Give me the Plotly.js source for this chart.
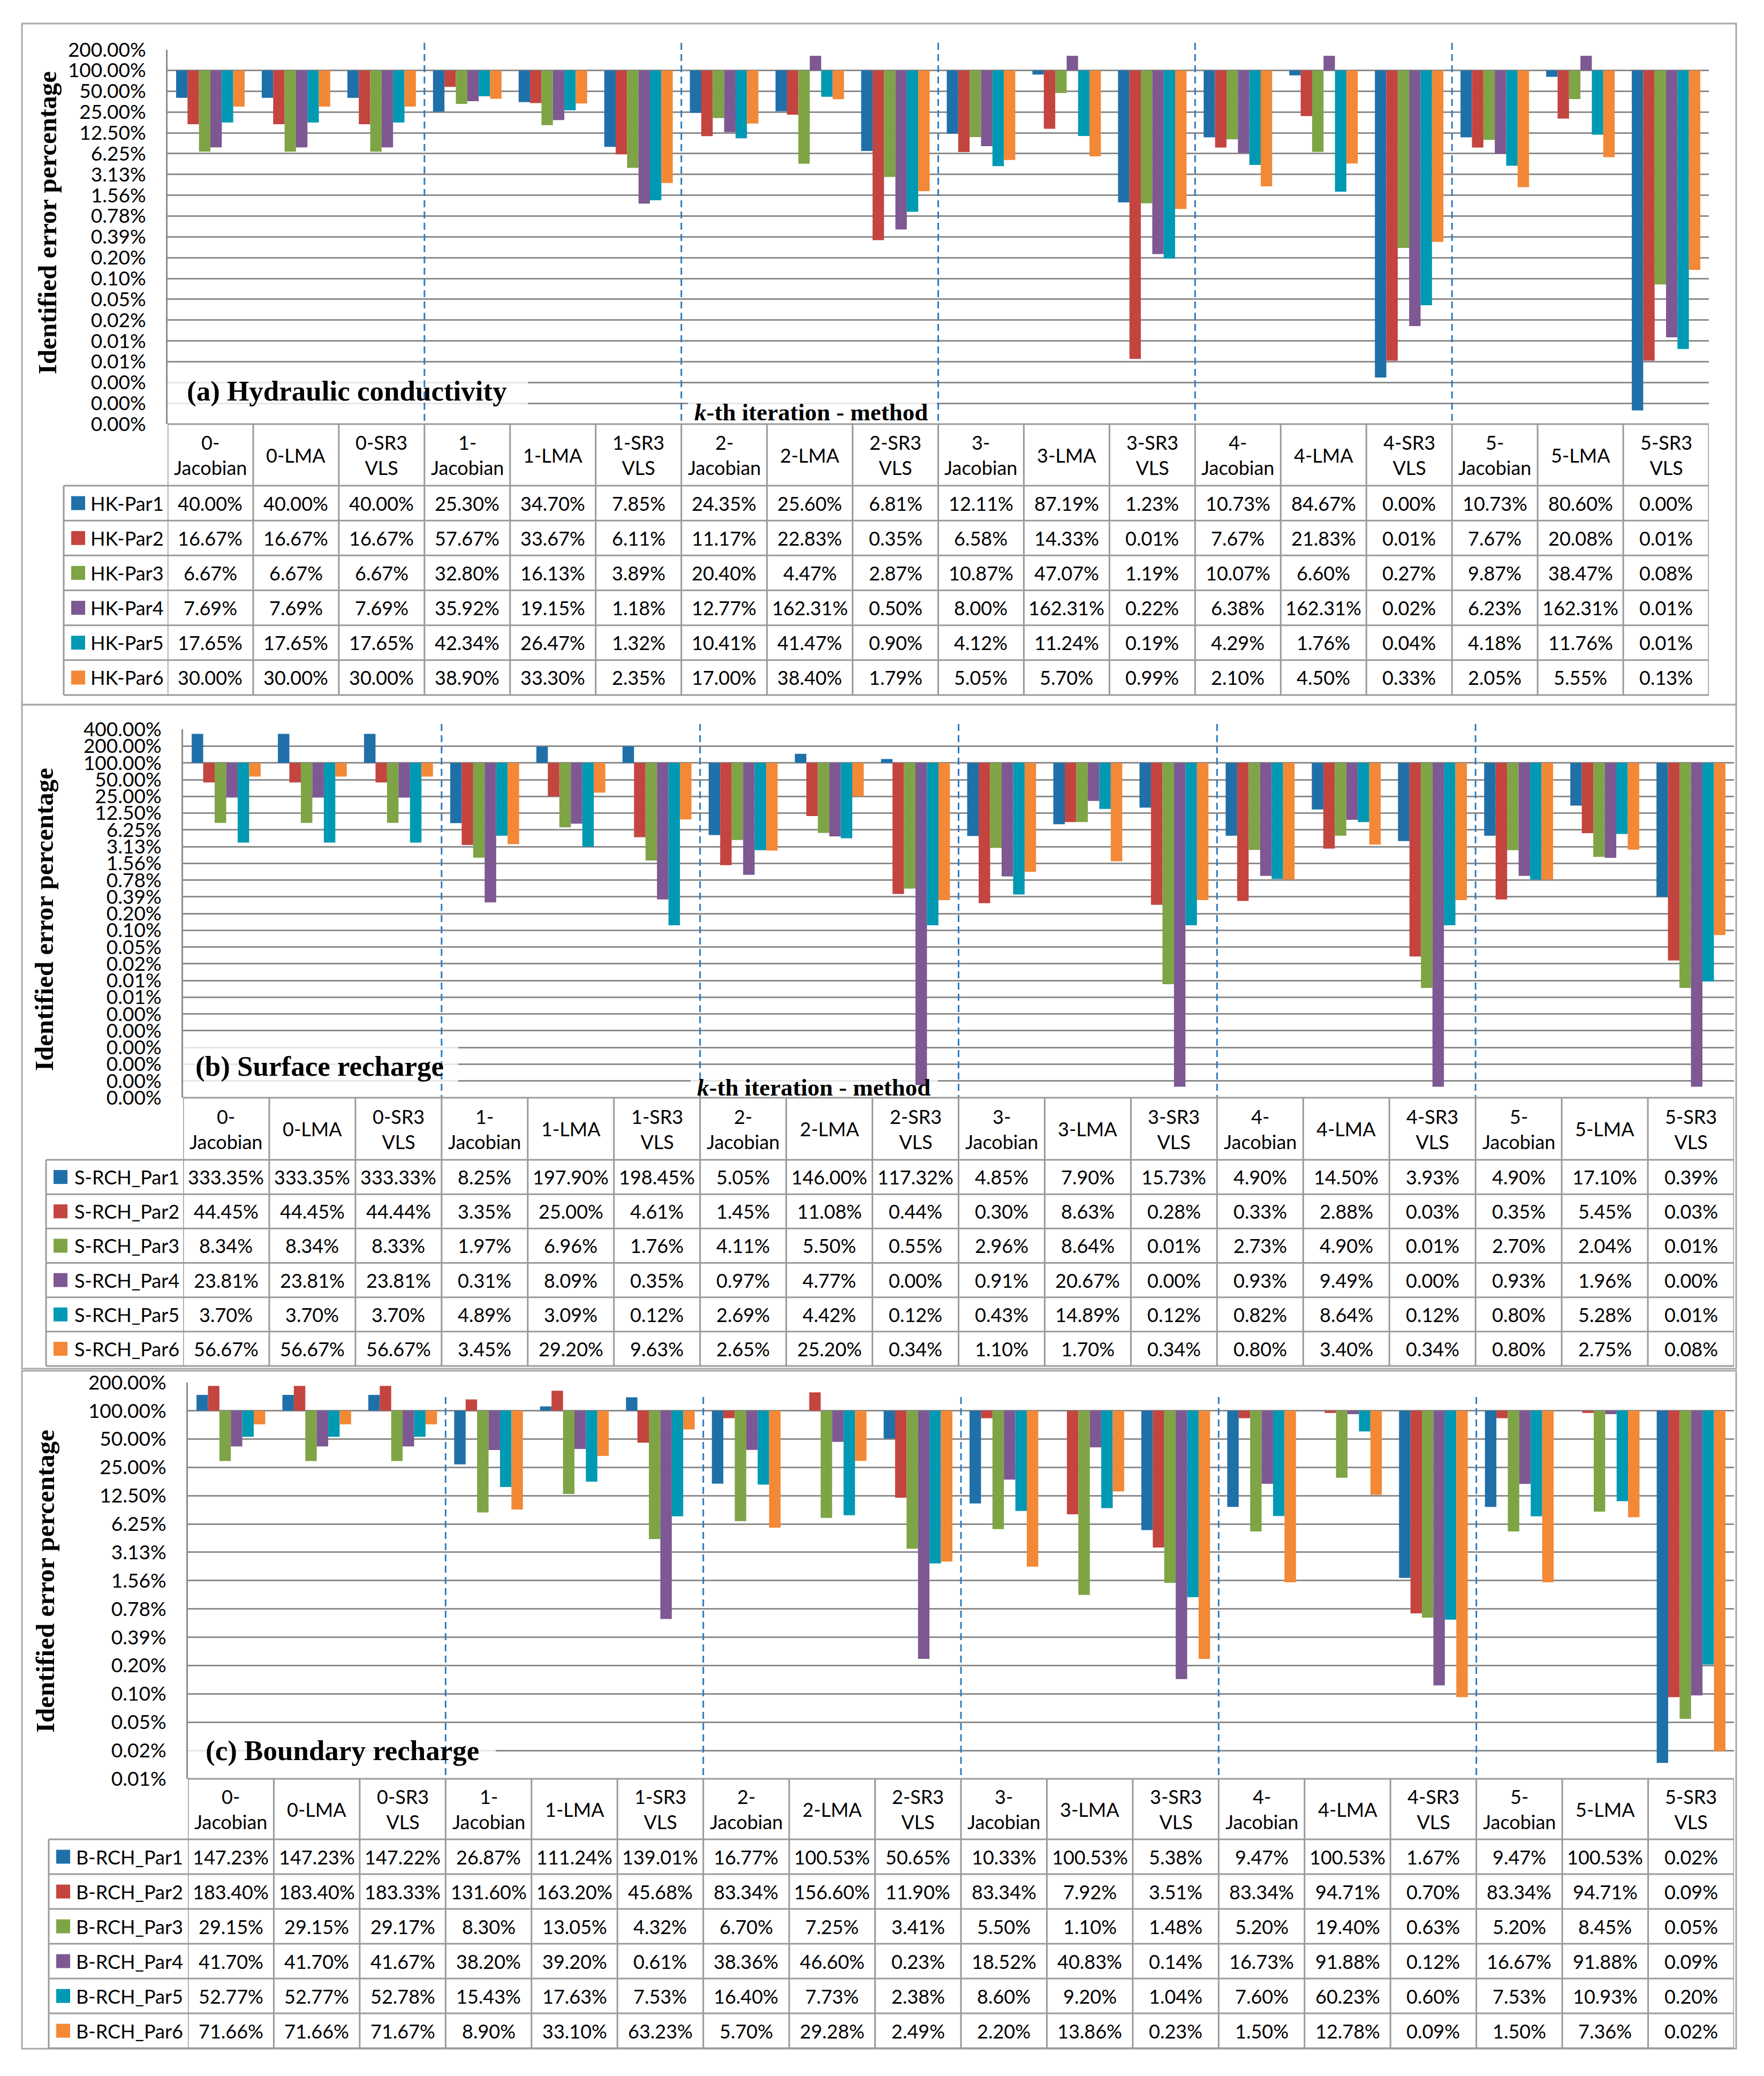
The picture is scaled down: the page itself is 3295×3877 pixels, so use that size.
<!DOCTYPE html>
<html>
<head>
<meta charset="utf-8">
<script src="https://cdn.plot.ly/plotly-3.0.1.min.js"></script>
<style>html,body{margin:0;padding:0;background:#fff}</style>
</head>
<body>
<div id="chart" style="width:3295px;height:3877px"></div>
<script>
// ---------------- DATA ----------------
const categories = ['0-Jacobian','0-LMA','0-SR3 VLS','1-Jacobian','1-LMA','1-SR3 VLS','2-Jacobian','2-LMA','2-SR3 VLS',
  '3-Jacobian','3-LMA','3-SR3 VLS','4-Jacobian','4-LMA','4-SR3 VLS','5-Jacobian','5-LMA','5-SR3 VLS'];
const headerLabels = ['0-<br>Jacobian','0-LMA','0-SR3<br>VLS','1-<br>Jacobian','1-LMA','1-SR3<br>VLS','2-<br>Jacobian','2-LMA','2-SR3<br>VLS',
  '3-<br>Jacobian','3-LMA','3-SR3<br>VLS','4-<br>Jacobian','4-LMA','4-SR3<br>VLS','5-<br>Jacobian','5-LMA','5-SR3<br>VLS'];
const seriesColors = ['#1F70A9','#C4443F','#7EA446','#7D5892','#0099B3','#F38836'];

const hkNames = ['HK-Par1','HK-Par2','HK-Par3','HK-Par4','HK-Par5','HK-Par6'];
const hkPar1 = [40.00,40.00,40.00,25.30,34.70,7.85,24.35,25.60,6.81,12.11,87.19,1.23,10.73,84.67,0.0036,10.73,80.60,0.0012];
const hkPar2 = [16.67,16.67,16.67,57.67,33.67,6.11,11.17,22.83,0.35,6.58,14.33,0.0067,7.67,21.83,0.0063,7.67,20.08,0.0063];
const hkPar3 = [6.67,6.67,6.67,32.80,16.13,3.89,20.40,4.47,2.87,10.87,47.07,1.19,10.07,6.60,0.27,9.87,38.47,0.08];
const hkPar4 = [7.69,7.69,7.69,35.92,19.15,1.18,12.77,162.31,0.50,8.00,162.31,0.22,6.38,162.31,0.02,6.23,162.31,0.0137];
const hkPar5 = [17.65,17.65,17.65,42.34,26.47,1.32,10.41,41.47,0.90,4.12,11.24,0.19,4.29,1.76,0.04,4.18,11.76,0.0093];
const hkPar6 = [30.00,30.00,30.00,38.90,33.30,2.35,17.00,38.40,1.79,5.05,5.70,0.99,2.10,4.50,0.33,2.05,5.55,0.13];

const srchNames = ['S-RCH_Par1','S-RCH_Par2','S-RCH_Par3','S-RCH_Par4','S-RCH_Par5','S-RCH_Par6'];
const srchPar1 = [333.35,333.35,333.33,8.25,197.90,198.45,5.05,146.00,117.32,4.85,7.90,15.73,4.90,14.50,3.93,4.90,17.10,0.39];
const srchPar2 = [44.45,44.45,44.44,3.35,25.00,4.61,1.45,11.08,0.44,0.30,8.63,0.28,0.33,2.88,0.033,0.35,5.45,0.028];
const srchPar3 = [8.34,8.34,8.33,1.97,6.96,1.76,4.11,5.50,0.55,2.96,8.64,0.0105,2.73,4.90,0.009,2.70,2.04,0.009];
const srchPar4 = [23.81,23.81,23.81,0.31,8.09,0.35,0.97,4.77,0.00016,0.91,20.67,0.00015,0.93,9.49,0.00015,0.93,1.96,0.00015];
const srchPar5 = [3.70,3.70,3.70,4.89,3.09,0.12,2.69,4.42,0.12,0.43,14.89,0.12,0.82,8.64,0.12,0.80,5.28,0.0117];
const srchPar6 = [56.67,56.67,56.67,3.45,29.20,9.63,2.65,25.20,0.34,1.10,1.70,0.34,0.80,3.40,0.34,0.80,2.75,0.08];

const brchNames = ['B-RCH_Par1','B-RCH_Par2','B-RCH_Par3','B-RCH_Par4','B-RCH_Par5','B-RCH_Par6'];
const brchPar1 = [147.23,147.23,147.22,26.87,111.24,139.01,16.77,100.53,50.65,10.33,100.53,5.38,9.47,100.53,1.67,9.47,100.53,0.018];
const brchPar2 = [183.40,183.40,183.33,131.60,163.20,45.68,83.34,156.60,11.90,83.34,7.92,3.51,83.34,94.71,0.70,83.34,94.71,0.09];
const brchPar3 = [29.15,29.15,29.17,8.30,13.05,4.32,6.70,7.25,3.41,5.50,1.10,1.48,5.20,19.40,0.63,5.20,8.45,0.053];
const brchPar4 = [41.70,41.70,41.67,38.20,39.20,0.61,38.36,46.60,0.23,18.52,40.83,0.14,16.73,91.88,0.12,16.67,91.88,0.094];
const brchPar5 = [52.77,52.77,52.78,15.43,17.63,7.53,16.40,7.73,2.38,8.60,9.20,1.04,7.60,60.23,0.60,7.53,10.93,0.20];
const brchPar6 = [71.66,71.66,71.67,8.90,33.10,63.23,5.70,29.28,2.49,2.20,13.86,0.23,1.50,12.78,0.09,1.50,7.36,0.024];

const yTitle = 'Identified error percentage';
const xTitle = '<i>k</i>-th iteration - method';

// ---------------- LAYOUT ----------------
const W = 3295, H = 3877;
const fx = p => p / W;
const fy = p => 1 - p / H;

const panels = [
  {xa:'x', ya:'y', names:hkNames, series:[hkPar1,hkPar2,hkPar3,hkPar4,hkPar5,hkPar6],
   ymax:200, nTicks:19, left:313, right:3192, top:92.6, bottom:792, headBot:907, tabBot:1298,
   keyLeft:119, sqX:133, nameX:167, border:[41,44,3243,1316], titleX:88, titleY:416,
   label:'(a) Hydraulic conductivity', labelX:347, labelY:730, labelBox:[313,700,986,764],
   kth:{x:1515, y:770, box:[1285,748,1750,791]}, dashTop:80},
  {xa:'x2', ya:'y2', names:srchNames, series:[srchPar1,srchPar2,srchPar3,srchPar4,srchPar5,srchPar6],
   ymax:400, nTicks:23, left:342, right:3239, top:1362.2, bottom:2050, headBot:2166, tabBot:2551,
   keyLeft:86, sqX:100, nameX:137, border:[41,1316,3243,2556], titleX:82, titleY:1717,
   label:'(b) Surface recharge', labelX:363, labelY:1991, labelBox:[342,1945,856,2035],
   kth:{x:1520, y:2031, box:[1290,2008,1752,2049]}, dashTop:1352},
  {xa:'x3', ya:'y3', names:brchNames, series:[brchPar1,brchPar2,brchPar3,brchPar4,brchPar5,brchPar6],
   ymax:200, nTicks:15, left:351, right:3239, top:2581.6, bottom:3322, headBot:3435, tabBot:3825,
   keyLeft:91, sqX:105, nameX:140, border:[41,2560,3243,3826], titleX:84, titleY:2953,
   label:'(c) Boundary recharge', labelX:382, labelY:3269, labelBox:[351,3240,926,3300],
   kth:null, dashTop:2609}
];

const GRID = '#8C8C8C', TABLE = '#9A9A9A', OUTER = '#A8A8A8', DASH = '#2E7BC0';
const numFont = {family:'Lato, "Open Sans", sans-serif', size:36, color:'#000'};
const serif = 'Liberation Serif, "Times New Roman", serif';

const fmt = v => v.toFixed(2) + '%';

const data = [];
const shapes = [];
const annotations = [];
const layout = {
  width: W, height: H, margin:{l:0,r:0,t:0,b:0},
  paper_bgcolor:'#fff', plot_bgcolor:'rgba(0,0,0,0)',
  barmode:'group', bargap:0.2, bargroupgap:0, showlegend:false,
  font:{family:'Lato, sans-serif', color:'#000'}
};

panels.forEach((p, pi) => {
  const xKey = pi === 0 ? 'xaxis' : 'xaxis' + (pi + 1);
  const yKey = pi === 0 ? 'yaxis' : 'yaxis' + (pi + 1);
  const ymin = p.ymax / Math.pow(2, p.nTicks - 1);
  const tickvals = [];
  for (let k = 0; k < p.nTicks; k++) tickvals.push(p.ymax / Math.pow(2, k));
  const ticktext = tickvals.map(fmt);
  const eps = 0.0004;

  layout[xKey] = {
    type:'category', domain:[fx(p.left), fx(p.right)], range:[-0.5, 17.5],
    anchor:p.ya, showticklabels:false, showgrid:false, zeroline:false, showline:false, ticks:'',
    fixedrange:true
  };
  layout[yKey] = {
    type:'log', domain:[fy(p.bottom), fy(p.top)],
    range:[Math.log10(ymin) - eps, Math.log10(p.ymax) + eps],
    anchor:p.xa, tickmode:'array', tickvals:tickvals, ticktext:ticktext,
    tickfont:{family:'Lato, "Open Sans", sans-serif', size:37, color:'#000'},
    ticks:'outside', ticklen:30, tickcolor:'rgba(0,0,0,0)',
    showgrid:true, gridcolor:GRID, gridwidth:3,
    showline:true, linecolor:GRID, linewidth:3, zeroline:false, fixedrange:true
  };

  // bars hanging from the 100% baseline
  p.series.forEach((vals, si) => {
    data.push({
      type:'bar', x:categories, y:vals.map(v => v - 100), base:100,
      xaxis:p.xa, yaxis:p.ya, name:p.names[si],
      marker:{color:seriesColors[si], line:{width:0}}, hoverinfo:'skip'
    });
  });

  // helpers to convert pixel to data coordinates for the in-plot boxes
  const perHalf = (p.bottom - p.top) / (p.nTicks - 1);
  const yData = py => p.ymax * Math.pow(2, -(py - p.top) / perHalf);
  const colW = (p.right - p.left) / 18;
  const xData = px => (px - p.left) / colW - 0.5;

  // semi-opaque boxes behind in-plot labels (between grid and bars)
  const boxes = [p.labelBox];
  if (p.kth) boxes.push(p.kth.box);
  boxes.forEach(b => {
    shapes.push({type:'rect', layer:'between', xref:p.xa, yref:p.ya,
      x0:xData(b[0]), x1:xData(b[2]), y0:yData(b[3]), y1:yData(b[1]),
      fillcolor:'rgba(255,255,255,0.78)', line:{width:0}});
  });

  // dashed separators between iterations
  [2.5, 5.5, 8.5, 11.5, 14.5].forEach(xv => {
    shapes.push({type:'line', layer:'above', xref:p.xa, yref:'paper',
      x0:xv, x1:xv, y0:fy(p.dashTop), y1:fy(p.bottom),
      line:{color:DASH, width:3, dash:'13px,8px'}});
  });

  // outer panel border
  shapes.push({type:'rect', xref:'paper', yref:'paper', layer:'above',
    x0:fx(p.border[0]), x1:fx(p.border[2]), y0:fy(p.border[3]), y1:fy(p.border[1]),
    line:{color:OUTER, width:3}, fillcolor:'rgba(0,0,0,0)'});

  // ---------- data table ----------
  const rowH = (p.tabBot - p.headBot) / 6;
  // header top
  shapes.push({type:'line', layer:'above', xref:'paper', yref:'paper',
    x0:fx(p.left), x1:fx(p.right), y0:fy(p.bottom), y1:fy(p.bottom), line:{color:TABLE, width:3}});
  // row lines
  for (let r = 0; r <= 6; r++) {
    const yy = p.headBot + r * rowH;
    shapes.push({type:'line', layer:'above', xref:'paper', yref:'paper',
      x0:fx(p.keyLeft), x1:fx(p.right), y0:fy(yy), y1:fy(yy), line:{color:TABLE, width:3}});
  }
  // key column left border
  shapes.push({type:'line', layer:'above', xref:'paper', yref:'paper',
    x0:fx(p.keyLeft), x1:fx(p.keyLeft), y0:fy(p.headBot), y1:fy(p.tabBot), line:{color:TABLE, width:3}});
  // column borders
  for (let c = 0; c <= 18; c++) {
    shapes.push({type:'line', layer:'above', xref:p.xa, yref:'paper',
      x0:c - 0.5, x1:c - 0.5, y0:fy(p.bottom), y1:fy(p.tabBot), line:{color:TABLE, width:3}});
  }
  // header labels
  categories.forEach((cat, ci) => {
    annotations.push({xref:p.xa, yref:'paper', x:cat, y:fy((p.bottom + p.headBot) / 2),
      text:headerLabels[ci], showarrow:false, xanchor:'center', yanchor:'middle',
      font:numFont, align:'center'});
  });
  // rows
  p.series.forEach((vals, si) => {
    const yc = fy(p.headBot + (si + 0.5) * rowH);
    shapes.push({type:'rect', layer:'above', xref:'paper', yref:'paper',
      x0:fx(p.sqX), x1:fx(p.sqX + 26), y0:yc - 13 / H, y1:yc + 13 / H,
      fillcolor:seriesColors[si], line:{width:0}});
    annotations.push({xref:'paper', yref:'paper', x:fx(p.nameX), y:yc, text:p.names[si],
      showarrow:false, xanchor:'left', yanchor:'middle', font:numFont});
    vals.forEach((v, ci) => {
      annotations.push({xref:p.xa, yref:'paper', x:categories[ci], y:yc, text:fmt(v),
        showarrow:false, xanchor:'center', yanchor:'middle', font:numFont});
    });
  });

  // titles and labels
  annotations.push({xref:'paper', yref:'paper', x:fx(p.titleX), y:fy(p.titleY),
    text:'<b>' + yTitle + '</b>', textangle:-90, showarrow:false,
    xanchor:'center', yanchor:'middle', font:{family:serif, size:49, color:'#000'}});
  annotations.push({xref:'paper', yref:'paper', x:fx(p.labelX), y:fy(p.labelY),
    text:'<b>' + p.label + '</b>', showarrow:false, xanchor:'left', yanchor:'middle',
    font:{family:serif, size:53, color:'#000'}});
  if (p.kth) {
    annotations.push({xref:'paper', yref:'paper', x:fx(p.kth.x), y:fy(p.kth.y),
      text:'<b>' + xTitle + '</b>', showarrow:false, xanchor:'center', yanchor:'middle',
      font:{family:serif, size:45, color:'#000'}});
  }
});

layout.shapes = shapes;
layout.annotations = annotations;

Plotly.newPlot('chart', data, layout, {displayModeBar:false, staticPlot:true});
</script>
</body>
</html>
